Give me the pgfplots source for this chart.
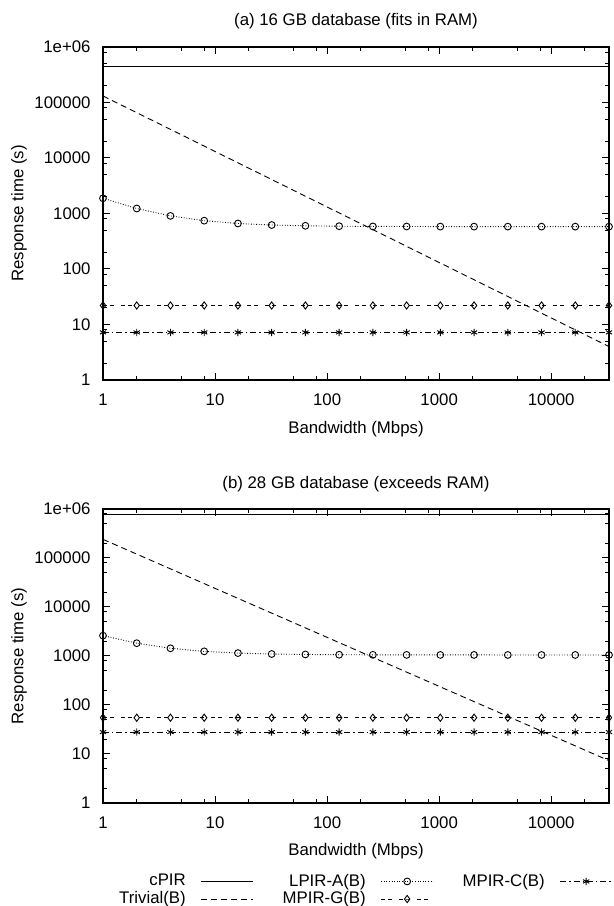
\documentclass[border=0pt]{standalone}
\usepackage{fontspec}
\setmainfont{Liberation Sans}
\usepackage{pgfplots}
\pgfplotsset{compat=1.18}

\newcommand{\lblfont}{\fontsize{8.4}{10}\selectfont}

\pgfplotsset{
  every axis/.append style={
    scale only axis, width=253pt,
    xmin=1, xmax=32768, ymin=1, ymax=1e6,
    xtick={1,10,100,1000,10000},
    xticklabels={1,10,100,1000,10000},
    ytick={1,10,100,1000,10000,100000,1000000},
    yticklabels={1,10,100,1000,10000,100000,1e+06},
    minor xtick={2,5,8,20,50,80,200,500,800,2000,5000,8000,20000},
    minor ytick={2,5,8,20,50,80,200,500,800,2000,5000,8000,20000,50000,80000,200000,500000,800000},
    tick align=inside,
    major tick length=3.5pt, minor tick length=2pt,
    axis line style={line width=0.8pt},
    tick style={black,line width=0.5pt},
    tick label style={font=\lblfont},
    xticklabel style={yshift=-3.5pt},
    yticklabel style={xshift=-2.7pt},
    clip=false,
  },
  legend image code/.code={
    \draw[mark repeat=2,mark phase=2,#1] plot coordinates {(0pt,0pt) (13pt,0pt) (26pt,0pt)};},
}
\tikzset{
  scpir/.style={black,line width=0.45pt,solid},
  striv/.style={black,line width=0.45pt,dash pattern=on 3pt off 2pt},
  slpir/.style={black,line width=0.45pt,dash pattern=on 0.4pt off 0.9pt,mark=o,mark size=1.7pt,mark options={solid}},
  smpirg/.style={black,line width=0.45pt,dash pattern=on 2pt off 1.5pt on 2pt off 3.5pt,mark=diamond,mark size=1.8pt,mark options={solid}},
  smpirc/.style={black,line width=0.45pt,dash pattern=on 3pt off 1.5pt on 0.7pt off 1.5pt,mark=asterisk,mark size=1.8pt,mark options={solid}},
}

\begin{document}
\begin{tikzpicture}
\useasboundingbox (0,0) rectangle (307pt,453pt);

% (a) 16 GB database
\begin{loglogaxis}[height=166.5pt, at={(51.5pt,263pt)}, anchor=south west]
\addplot[scpir] coordinates {(1,440000) (32768,440000)};
\addplot[striv] coordinates {(1,131072) (2,65536) (4,32768) (8,16384) (16,8192) (32,4096) (64,2048) (128,1024) (256,512) (512,256) (1024,128) (2048,64) (4096,32) (8192,16) (16384,8) (32768,4)};
\addplot[slpir] coordinates {(1,1880) (2,1230) (4,905) (8,742) (16,661) (32,620) (64,600) (128,590) (256,585) (512,583) (1024,581) (2048,580) (4096,580) (8192,580) (16384,580) (32768,580)};
\addplot[smpirg] coordinates {(1,22) (2,22) (4,22) (8,22) (16,22) (32,22) (64,22) (128,22) (256,22) (512,22) (1024,22) (2048,22) (4096,22) (8192,22) (16384,22) (32768,22)};
\addplot[smpirc] coordinates {(1,7.2) (2,7.2) (4,7.2) (8,7.2) (16,7.2) (32,7.2) (64,7.2) (128,7.2) (256,7.2) (512,7.2) (1024,7.2) (2048,7.2) (4096,7.2) (8192,7.2) (16384,7.2) (32768,7.2)};
\end{loglogaxis}

% (b) 28 GB database
\begin{loglogaxis}[height=147pt, at={(51.5pt,51.5pt)}, anchor=south west,
  legend columns=3, legend cell align=right, legend plot pos=right,
  legend style={at={(1.008,-0.226)}, anchor=north east, draw=none, fill=none,
    font=\lblfont, inner sep=0pt, row sep=-2.8pt,
    /tikz/every odd column/.append style={column sep=5.5pt},
    /tikz/every even column/.append style={column sep=12.5pt}}]
\addplot[scpir] coordinates {(1,790000) (32768,790000)};
\addlegendentry{cPIR}
\addplot[slpir] coordinates {(1,2600) (2,1825) (4,1437) (8,1244) (16,1147) (32,1098) (64,1074) (128,1062) (256,1056) (512,1053) (1024,1051) (2048,1051) (4096,1050) (8192,1050) (16384,1050) (32768,1050)};
\addlegendentry{LPIR-A(B)}
\addplot[smpirc] coordinates {(1,28) (2,28) (4,28) (8,28) (16,28) (32,28) (64,28) (128,28) (256,28) (512,28) (1024,28) (2048,28) (4096,28) (8192,28) (16384,28) (32768,28)};
\addlegendentry{MPIR-C(B)}
\addplot[striv] coordinates {(1,240000) (2,120000) (4,60000) (8,30000) (16,15000) (32,7500) (64,3750) (128,1875) (256,937.5) (512,468.75) (1024,234.4) (2048,117.2) (4096,58.6) (8192,29.3) (16384,14.65) (32768,7.32)};
\addlegendentry{Trivial(B)}
\addplot[smpirg] coordinates {(1,55) (2,55) (4,55) (8,55) (16,55) (32,55) (64,55) (128,55) (256,55) (512,55) (1024,55) (2048,55) (4096,55) (8192,55) (16384,55) (32768,55)};
\addlegendentry{MPIR-G(B)}
\end{loglogaxis}

% titles and axis labels
\node[font=\lblfont] at (178pt,442.5pt) {(a) 16 GB database (fits in RAM)};
\node[font=\lblfont] at (178pt,211pt) {(b) 28 GB database (exceeds RAM)};
\node[font=\lblfont] at (178pt,238.5pt) {Bandwidth (Mbps)};
\node[font=\lblfont] at (178pt,27.5pt) {Bandwidth (Mbps)};
\node[font=\lblfont,rotate=90] at (9.5pt,346.25pt) {Response time (s)};
\node[font=\lblfont,rotate=90] at (9.5pt,125pt) {Response time (s)};
\end{tikzpicture}
\end{document}
